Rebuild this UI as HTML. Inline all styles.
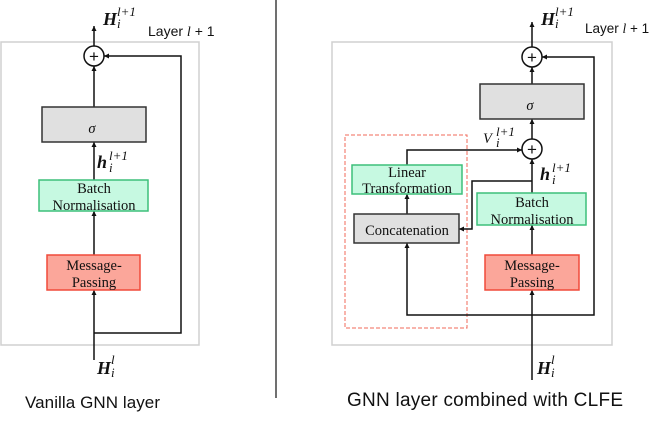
<!DOCTYPE html>
<html><head><meta charset="utf-8"><style>
html,body{margin:0;padding:0;background:#fff;width:664px;height:424px;overflow:hidden}
svg{display:block}
.s{font-family:"Liberation Serif",serif;font-size:14.5px;fill:#111}
.a{font-family:"Liberation Sans",sans-serif;fill:#111}
.m{font-family:"Liberation Serif",serif;font-style:italic;font-weight:bold;fill:#111}
.sp{font-family:"Liberation Serif",serif;font-style:italic;font-size:13px;fill:#111}
</style></head><body>
<svg width="664" height="424" viewBox="0 0 664 424" xmlns="http://www.w3.org/2000/svg">
<defs><marker id="ar" markerWidth="6" markerHeight="6" refX="5" refY="3" orient="auto" markerUnits="userSpaceOnUse"><path d="M0,0.5 L5,3 L0,5.5z" fill="#111"/></marker></defs>
<line x1="276" y1="0" x2="276" y2="398" stroke="#111" stroke-width="1.2"/>
<!-- LEFT -->
<rect x="1" y="42" width="198" height="303" fill="none" stroke="#d0d0d0" stroke-width="1.5"/>
<g stroke="#111" stroke-width="1.5" fill="none">
<line x1="94" y1="46" x2="94" y2="26" marker-end="url(#ar)"/>
<line x1="94" y1="107" x2="94" y2="66" marker-end="url(#ar)"/>
<line x1="94" y1="180" x2="94" y2="142" marker-end="url(#ar)"/>
<line x1="94" y1="255" x2="94" y2="211" marker-end="url(#ar)"/>
<line x1="94" y1="360" x2="94" y2="290" marker-end="url(#ar)"/>
<polyline points="94,333 181,333 181,56 104,56" marker-end="url(#ar)"/>
<circle cx="94" cy="56" r="10" fill="#fff"/>
</g>
<text x="94" y="62" text-anchor="middle" class="a" font-size="17">+</text>
<rect x="42" y="107" width="104" height="35" fill="#e0e0e0" stroke="#333" stroke-width="1.5"/>
<text x="92" y="133" text-anchor="middle" class="s" font-size="22" font-style="italic">σ</text>
<rect x="39" y="180" width="109" height="31" fill="#c6f9e1" stroke="#3dbf7a" stroke-width="1.5"/>
<text x="94" y="193" text-anchor="middle" class="s">Batch</text>
<text x="94" y="210" text-anchor="middle" class="s">Normalisation</text>
<rect x="47" y="255" width="93" height="35" fill="#fba69a" stroke="#f04a3a" stroke-width="1.5"/>
<text x="94" y="270" text-anchor="middle" class="s">Message-</text>
<text x="94" y="287" text-anchor="middle" class="s">Passing</text>
<text x="103" y="25" class="m" font-size="18">H</text><text x="117" y="16" class="sp">l+1</text><text x="117" y="28" class="sp">i</text>
<text x="97" y="168" class="m" font-size="18">h</text><text x="109" y="160" class="sp">l+1</text><text x="109" y="172" class="sp">i</text>
<text x="97" y="374" class="m" font-size="18">H</text><text x="111" y="364" class="sp">l</text><text x="111" y="377" class="sp">i</text>
<text x="148" y="36" class="a" font-size="14">Layer <tspan font-family="Liberation Serif" font-style="italic">l</tspan> + 1</text>
<text x="25" y="408" class="a" font-size="17" textLength="135">Vanilla GNN layer</text>
<!-- RIGHT -->
<rect x="332" y="42" width="280" height="303" fill="none" stroke="#d0d0d0" stroke-width="1.5"/>
<rect x="345" y="135" width="122" height="193" fill="none" stroke="#f06a5a" stroke-width="1" stroke-dasharray="4,2"/>
<g stroke="#111" stroke-width="1.5" fill="none">
<line x1="532" y1="47" x2="532" y2="22" marker-end="url(#ar)"/>
<line x1="532" y1="84" x2="532" y2="67" marker-end="url(#ar)"/>
<line x1="532" y1="139" x2="532" y2="119" marker-end="url(#ar)"/>
<line x1="532" y1="193" x2="532" y2="159" marker-end="url(#ar)"/>
<line x1="532" y1="255" x2="532" y2="225" marker-end="url(#ar)"/>
<line x1="532" y1="380" x2="532" y2="290" marker-end="url(#ar)"/>
<polyline points="407,165 407,150 522,150" marker-end="url(#ar)"/>
<line x1="407" y1="214" x2="407" y2="194" marker-end="url(#ar)"/>
<polyline points="532,181 472,181 472,229 459,229" marker-end="url(#ar)"/>
<polyline points="532,315 407,315 407,243" marker-end="url(#ar)"/>
<polyline points="532,315 594,315 594,57 542,57" marker-end="url(#ar)"/>
<circle cx="532" cy="57" r="10" fill="#fff"/>
<circle cx="532" cy="149" r="10" fill="#fff"/>
</g>
<text x="532" y="63" text-anchor="middle" class="a" font-size="17">+</text>
<text x="532" y="155" text-anchor="middle" class="a" font-size="17">+</text>
<rect x="480" y="84" width="104" height="35" fill="#e0e0e0" stroke="#333" stroke-width="1.5"/>
<text x="530" y="110" text-anchor="middle" class="s" font-size="22" font-style="italic">σ</text>
<rect x="352" y="165" width="110" height="29" fill="#c6f9e1" stroke="#3dbf7a" stroke-width="1.5"/>
<text x="407" y="177" text-anchor="middle" class="s" font-size="12.5">Linear</text>
<text x="407" y="193" text-anchor="middle" class="s" font-size="12.5">Transformation</text>
<rect x="354" y="214" width="105" height="29" fill="#e0e0e0" stroke="#333" stroke-width="1.5"/>
<text x="407" y="235" text-anchor="middle" class="s">Concatenation</text>
<rect x="477" y="193" width="109" height="32" fill="#c6f9e1" stroke="#3dbf7a" stroke-width="1.5"/>
<text x="532" y="207" text-anchor="middle" class="s">Batch</text>
<text x="532" y="224" text-anchor="middle" class="s">Normalisation</text>
<rect x="485" y="255" width="94" height="35" fill="#fba69a" stroke="#f04a3a" stroke-width="1.5"/>
<text x="532" y="270" text-anchor="middle" class="s">Message-</text>
<text x="532" y="287" text-anchor="middle" class="s">Passing</text>
<text x="541" y="25" class="m" font-size="18">H</text><text x="555" y="16" class="sp">l+1</text><text x="555" y="28" class="sp">i</text>
<text x="483" y="143" class="s" font-style="italic" font-size="18">V</text><text x="496" y="136" class="sp">l+1</text><text x="496" y="147" class="sp">i</text>
<text x="540" y="180" class="m" font-size="18">h</text><text x="552" y="172" class="sp">l+1</text><text x="552" y="184" class="sp">i</text>
<text x="537" y="374" class="m" font-size="18">H</text><text x="551" y="364" class="sp">l</text><text x="551" y="377" class="sp">i</text>
<text x="585" y="33" class="a" font-size="13.5">Layer <tspan font-family="Liberation Serif" font-style="italic">l</tspan> + 1</text>
<text x="347" y="406" class="a" font-size="19" textLength="276">GNN layer combined with CLFE</text>
</svg>
</body></html>
